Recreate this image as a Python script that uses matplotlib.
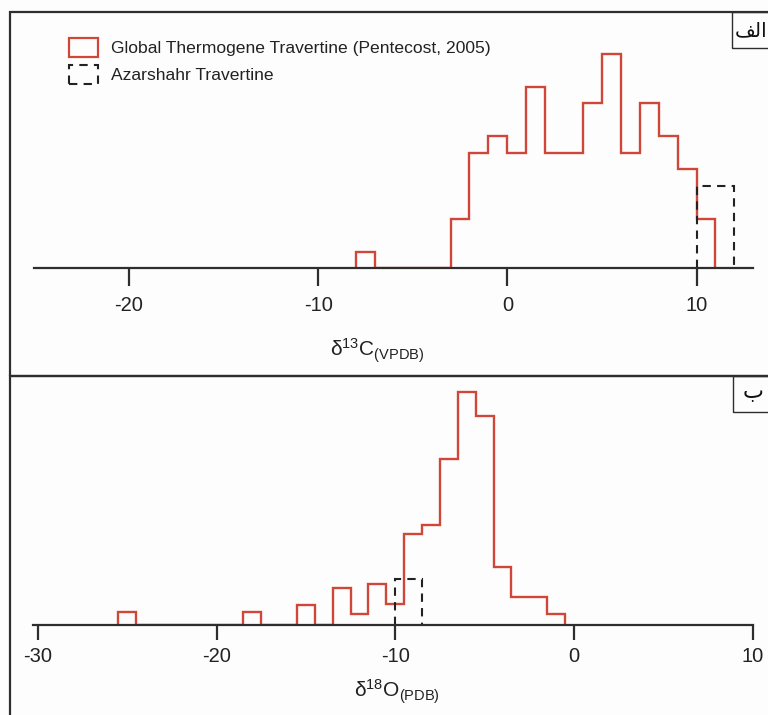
import numpy as np
import matplotlib
matplotlib.use("Agg")
import matplotlib.pyplot as plt
from matplotlib.patches import Patch, Rectangle

plt.rcParams['font.family'] = ['Liberation Sans', 'DejaVu Sans']
plt.rcParams['mathtext.fontset'] = 'custom'
plt.rcParams['mathtext.rm'] = 'Liberation Sans'
plt.rcParams['mathtext.default'] = 'regular'
plt.rcParams['axes.unicode_minus'] = False

# d13C histogram (1 permil bins), Pentecost 2005 compilation
c_edges = np.arange(-8, 12)
c_counts = [1, 0, 0, 0, 0, 3, 7, 8, 7, 11, 7, 7, 10, 13, 7, 10, 8, 6, 3]
c_aza_edges = [10, 12]
c_aza_counts = [5]
c_ticks = [-20, -10, 0, 10]

# d18O histogram
o_edges = np.arange(-25.5, 0.0, 1.0)
o_counts = [1.3, 0, 0, 0, 0, 0, 0, 1.3, 0, 0, 2.0, 0, 3.7, 1.1, 4.1, 2.1,
            9.1, 10.0, 16.6, 23.3, 20.9, 5.8, 2.8, 2.8, 1.1]
o_aza_edges = [-10, -8.5]
o_aza_counts = [4.6]
o_ticks = [-30, -20, -10, 0, 10]

RED = '#d0473a'
DARK = '#2e2e2e'
W, H = 768, 715

fig = plt.figure(figsize=(W / 100, H / 100), dpi=100, facecolor='#fdfdfd')


def fx(px):
    return px / W


def fy(py):
    return 1 - py / H


def style_axis(ax, ticks, ticklen, pad):
    for s in ['top', 'right', 'left']:
        ax.spines[s].set_visible(False)
    ax.spines['bottom'].set_linewidth(1.6)
    ax.spines['bottom'].set_color(DARK)
    ax.set_yticks([])
    ax.set_xticks(ticks)
    ax.tick_params(axis='x', direction='out', length=ticklen, width=1.6,
                   color=DARK, labelsize=14.5, pad=pad, labelcolor='#222222')
    ax.patch.set_alpha(0)


# top panel
ax1 = fig.add_axes([fx(34.3), fy(268.3), fx(719), 238.3 / H])
ax1.stairs(c_counts, c_edges, color=RED, linewidth=1.7)
ax1.stairs(c_aza_counts, c_aza_edges, color='#222222', linewidth=1.5,
           linestyle=(0, (4, 3)))
ax1.set_xlim(-25, 13)
ax1.set_ylim(0, 238.3 / 16.5)
style_axis(ax1, c_ticks, 13, 7)

handles = [Patch(facecolor='none', edgecolor=RED, linewidth=1.6),
           Patch(facecolor='none', edgecolor='#222222', linewidth=1.5,
                 linestyle=(0, (4, 3)))]
fig.legend(handles, ['Global Thermogene Travertine (Pentecost, 2005)',
                     'Azarshahr Travertine'],
           loc='upper left', bbox_to_anchor=(fx(68.6), fy(38)),
           frameon=False, fontsize=12.6, handlelength=1.66, handleheight=1.3,
           handletextpad=0.78, labelspacing=0.45, borderpad=0, borderaxespad=0,
           labelcolor='#222222')

fig.text(fx(377), fy(351), r'$\delta^{13}$C$_{(VPDB)}$', ha='center',
         va='center', fontsize=15, color='#222222')

# bottom panel
ax2 = fig.add_axes([fx(33.3), fy(625), fx(719.5), 245 / H])
ax2.stairs(o_counts, o_edges, color=RED, linewidth=1.7)
ax2.stairs(o_aza_counts, o_aza_edges, color='#222222', linewidth=1.5,
           linestyle=(0, (4, 3)))
ax2.set_xlim(-30.25, 10)
ax2.set_ylim(0, 24.5)
style_axis(ax2, o_ticks, 11, 5)

fig.text(fx(397), fy(692), r'$\delta^{18}$O$_{(PDB)}$', ha='center',
         va='center', fontsize=15, color='#222222')

# panel frames (cropped on the right and bottom like the source figure)
fig.add_artist(Rectangle((fx(10), fy(375.7)), fx(800), (375.7 - 12.3) / H,
                         transform=fig.transFigure, fill=False,
                         edgecolor=DARK, linewidth=1.6))
fig.add_artist(Rectangle((fx(10), fy(760)), fx(800), (760 - 375.7) / H,
                         transform=fig.transFigure, fill=False,
                         edgecolor=DARK, linewidth=1.6))
fig.add_artist(Rectangle((fx(732), fy(47.7)), fx(80), 35.4 / H,
                         transform=fig.transFigure, fill=False,
                         edgecolor=DARK, linewidth=1.0))
fig.add_artist(Rectangle((fx(733), fy(411.7)), fx(80), 36 / H,
                         transform=fig.transFigure, fill=False,
                         edgecolor=DARK, linewidth=1.0))

# Arabic panel letters (presentation forms, visual order)
fig.text(fx(734.5), fy(31), '\ufed2\ufedf\ufe8d', ha='left', va='center',
         fontsize=14.5, family='DejaVu Sans', color='#111111')
fig.text(fx(743), fy(392), '\ufe8f', ha='left', va='center',
         fontsize=16, family='DejaVu Sans', color='#111111')

fig.savefig('out.png', dpi=100, facecolor=fig.get_facecolor())
